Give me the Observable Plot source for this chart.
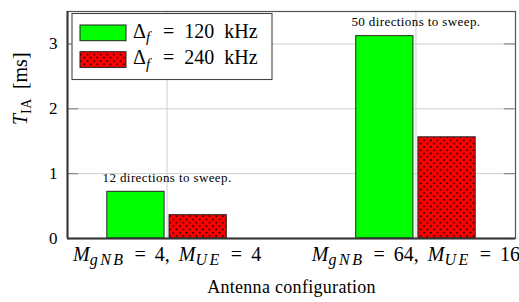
<!DOCTYPE html>
<html><head><meta charset="utf-8">
<script src="https://cdn.jsdelivr.net/npm/d3@7"></script>
<script src="https://cdn.jsdelivr.net/npm/@observablehq/plot@0.6"></script>
<style>body{margin:0;background:#fff;overflow:hidden}</style>
</head><body><div id="chart"></div>
<script>
// ---- data ----
const configs = ["M_gNB = 4, M_UE = 4", "M_gNB = 64, M_UE = 16"];
const seriesNames = ["Δ_f = 120 kHz", "Δ_f = 240 kHz"];
const values120 = [0.72, 3.12];
const values240 = [0.36, 1.56];
const annotations = ["12 directions to sweep.", "50 directions to sweep."];
const annotationY = [0.935, 3.345];
const yTicks = [0, 1, 2, 3];
const xLabel = "Antenna configuration";
const yLabel = "T_IA [ms]";

// ---- table ----
const positions = configs.map((c, i) => i + 1);
const bars120 = positions.map((p, i) => ({pos: p, v: values120[i]}));
const bars240 = positions.map((p, i) => ({pos: p, v: values240[i]}));
const notes = positions.map((p, i) => ({pos: p, y: annotationY[i], t: annotations[i]}));

const FONT = "'Liberation Serif', 'Times New Roman', serif";
const GREEN = "#00ff00";
const RED = "#ff0000";
const HALF = 0.24, GAP = 0.01;

const plot = Plot.plot({
  width: 519, height: 302,
  marginLeft: 67, marginRight: 4, marginTop: 11, marginBottom: 64,
  style: {fontFamily: FONT, background: "white", color: "black"},
  x: {type: "linear", domain: [0.6, 2.4], axis: null},
  y: {domain: [0, 3.5], axis: null},
  marks: [
    Plot.gridY(yTicks, {stroke: "#cfcfcf", strokeOpacity: 1, strokeWidth: 1}),
    Plot.gridX(positions, {stroke: "#cfcfcf", strokeOpacity: 1, strokeWidth: 1}),
    Plot.ruleY(yTicks, {x1: 0.6, x2: 0.645, stroke: "#8a8a8a", strokeWidth: 1.2}),
    Plot.ruleY(yTicks, {x1: 2.355, x2: 2.4, stroke: "#8a8a8a", strokeWidth: 1.2}),
    Plot.rectY(bars120, {x1: d => d.pos - HALF, x2: d => d.pos - GAP, y: "v", fill: GREEN, stroke: "#222", strokeWidth: 1}),
    Plot.rectY(bars240, {x1: d => d.pos + GAP, x2: d => d.pos + HALF, y: "v", fill: "url(#dotsPattern)", stroke: "#222", strokeWidth: 1}),
    Plot.text(notes, {x: "pos", y: "y", text: "t", fontSize: 13, fill: "black"}),
    Plot.frame({stroke: "#555", strokeWidth: 1.2}),
    Plot.ruleY([0], {stroke: "#333", strokeWidth: 2}),
    Plot.ruleX([0.6], {stroke: "#333", strokeWidth: 2}),
    Plot.axisY(yTicks, {anchor: "left", tickSize: 0, tickPadding: 10, fontSize: 17, label: null, fill: "black",
      tickFormat: d => String(d)}),
    Plot.axisX(positions, {anchor: "bottom", tickSize: 0, tickPadding: 8, fontSize: 20, label: null,
      tickFormat: d => configs[d - 1], fill: "black"}),
    Plot.text([xLabel], {frameAnchor: "bottom", dy: 54, fontSize: 18, fill: "black"}),
    Plot.text([yLabel], {frameAnchor: "left", dx: -47, rotate: -90, fontSize: 20, fill: "black"})
  ]
});
document.getElementById("chart").append(plot);

const svg = d3.select(plot);
// pattern
const defs = svg.insert("defs", ":first-child");
const P = 6.6;
const pat = defs.append("pattern").attr("id", "dotsPattern").attr("patternUnits", "userSpaceOnUse")
  .attr("width", P).attr("height", P);
pat.append("rect").attr("width", P).attr("height", P).attr("fill", RED);
pat.append("rect").attr("x", 0.9).attr("y", 0.9).attr("width", 1.6).attr("height", 1.6).attr("fill", "black");
pat.append("rect").attr("x", 0.9 + P / 2).attr("y", 0.9 + P / 2).attr("width", 1.6).attr("height", 1.6).attr("fill", "black");

// rich math text: "X_sub" → italic X with subscript
function rich(node, str, size, subSize, subItalic, subSpacing) {
  const t = d3.select(node);
  t.text(null);
  const re = /([A-Za-zΔ])_([A-Za-z]+)/g;
  let last = 0, m, shifted = false;
  const add = (s, opts) => {
    if (!s) return;
    const sp = t.append("tspan").text(s);
    if (opts.italic) sp.attr("font-style", "italic");
    if (opts.sub) {
      sp.attr("font-size", subSize);
      if (subSpacing) sp.attr("letter-spacing", subSpacing);
      if (!shifted) { sp.attr("dy", size * 0.22); shifted = true; }
    } else if (shifted) { sp.attr("dy", -size * 0.22); shifted = false; }
  };
  while ((m = re.exec(str))) {
    add(str.slice(last, m.index), {});
    add(m[1], {italic: m[1] !== "Δ"});
    add(m[2], {sub: true, italic: subItalic});
    last = m.index + m[0].length;
  }
  add(str.slice(last), {});
}

svg.selectAll("text").attr("font-family", FONT);

svg.selectAll('g[aria-label="x-axis tick label"] text').each(function(d, i) {
  rich(this, configs[i], 20, 16, true, 2.5);
  d3.select(this).attr("word-spacing", 4);
});
svg.selectAll("text").filter(function() { return this.textContent === yLabel; }).each(function() {
  rich(this, yLabel, 20, 14, false, 0.5);
  d3.select(this).attr("word-spacing", 4);
});
svg.selectAll("text").filter(function() { return annotations.includes(this.textContent); })
  .attr("letter-spacing", 0.4);
svg.selectAll("text").filter(function() { return this.textContent === xLabel; })
  .attr("letter-spacing", 0.3);

// legend
const lg = svg.append("g").attr("font-family", FONT).attr("text-anchor", "start");
lg.append("rect").attr("x", 72).attr("y", 13.5).attr("width", 200).attr("height", 66)
  .attr("fill", "white").attr("stroke", "#444").attr("stroke-width", 1.1);
const fills = [GREEN, "url(#dotsPattern)"];
seriesNames.forEach((name, i) => {
  const y0 = 25 + i * 26.7;
  lg.append("rect").attr("x", 80).attr("y", y0).attr("width", 46).attr("height", 15.7)
    .attr("fill", fills[i]).attr("stroke", "#222").attr("stroke-width", 1);
  const tx = lg.append("text").attr("x", 133).attr("y", y0 + 12.5).attr("font-size", 20).attr("fill", "black")
    .attr("text-anchor", "start").attr("font-family", FONT).style("white-space", "pre");
  rich(tx.node(), name, 20, 15, true, 3);
  tx.attr("word-spacing", 5);
});
</script>
</body></html>
